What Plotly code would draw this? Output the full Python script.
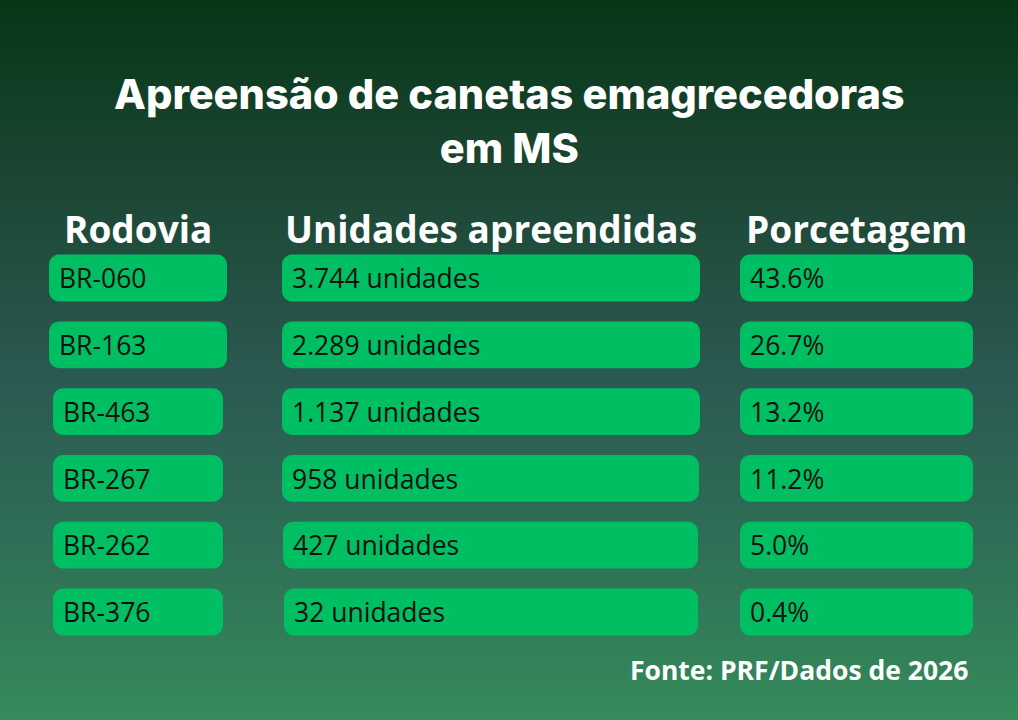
import numpy as np
import plotly.graph_objects as go

# table content
rodovias = ["BR-060", "BR-163", "BR-463", "BR-267", "BR-262", "BR-376"]
unidades = [3744, 2289, 1137, 958, 427, 32]
porcentagem = [43.6, 26.7, 13.2, 11.2, 5.0, 0.4]

headers = ["Rodovia", "Unidades apreendidas", "Porcetagem"]
title_lines = ["Apreensão de canetas emagrecedoras", "em MS"]
fonte = "Fonte: PRF/Dados de 2026"

W, H = 1018, 720
BOX = "#00bf63"
BODY_FONT = "Open Sans"


def fmt_unidades(n):
    return f"{n:,}".replace(",", ".") + " unidades"


# pill geometry per column (pixel units on the x axis)
col1_left = [49, 49, 53, 53, 53, 53]
col1_right = [227, 227, 223, 223, 223, 223]
col2_left = [282, 282, 282, 282, 283, 284]
col2_right = [700, 700, 700, 699, 698, 698]
col3_left = [740] * 6
col3_right = [973] * 6
pad = 10

columns = [
    (col1_left, col1_right, rodovias),
    (col2_left, col2_right, [fmt_unidades(u) for u in unidades]),
    (col3_left, col3_right, [f"{p:.1f}%" for p in porcentagem]),
]

fig = go.Figure()

# background gradient on the base axes
grad = np.linspace(0, 1, 200)
fig.add_trace(go.Heatmap(
    x=[0, W], y=np.linspace(0, H, 200), z=[[v, v] for v in grad],
    colorscale=[
        [0.0, "#053716"],
        [0.22, "#1a4430"],
        [0.53, "#2b5a52"],
        [0.75, "#2f6e56"],
        [1.0, "#358b5b"],
    ],
    showscale=False, hoverinfo="skip", xaxis="x", yaxis="y",
))

for left, right, labels in columns:
    fig.add_trace(go.Bar(
        y=rodovias, x=[r - l for l, r in zip(left, right)], base=left,
        orientation="h", width=0.70, marker=dict(color=BOX, line=dict(width=0)),
        hoverinfo="skip", xaxis="x2", yaxis="y2", showlegend=False,
    ))
    fig.add_trace(go.Scatter(
        y=rodovias, x=[l + pad for l in left], text=labels, mode="text",
        textposition="middle right",
        textfont=dict(family=BODY_FONT, size=26.5, color="#111111"),
        hoverinfo="skip", xaxis="x2", yaxis="y3", showlegend=False,
    ))

# row 0 centred at 278px, pitch 66.8px; text axis nudged a few px lower
pitch = 66.8
y_top = -278 / pitch
y_bot = (H - 278) / pitch
nudge = 3.5 / pitch

annotations = [
    dict(text="<br>".join(title_lines), x=0.5, y=1 - 121 / H,
         font=dict(family="Inter", size=41.5, color="white", weight=800)),
    dict(text=fonte, x=970 / W, y=1 - 670 / H, xanchor="right",
         font=dict(family=BODY_FONT, size=26.5, color="white", weight=700)),
]
for text, cx in zip(headers, [138, 491, 856]):
    annotations.append(dict(
        text=text, x=cx / W, y=1 - 228 / H,
        font=dict(family=BODY_FONT, size=37, color="white", weight=700),
    ))
for a in annotations:
    a.update(xref="paper", yref="paper", showarrow=False, align="center",
             yanchor="middle")
    a.setdefault("xanchor", "center")

axis_off = dict(visible=False, showgrid=False, zeroline=False, fixedrange=True)
fig.update_layout(
    width=W, height=H,
    margin=dict(l=0, r=0, t=0, b=0),
    paper_bgcolor="#1f4f3c", plot_bgcolor="rgba(0,0,0,0)",
    barmode="overlay",
    barcornerradius=10,
    xaxis=dict(range=[0, W], **axis_off),
    yaxis=dict(range=[H, 0], **axis_off),
    xaxis2=dict(range=[0, W], overlaying="x", **axis_off),
    yaxis2=dict(range=[y_bot, y_top], type="category", overlaying="y", **axis_off),
    yaxis3=dict(range=[y_bot - nudge, y_top - nudge], type="category",
                overlaying="y", **axis_off),
    annotations=annotations,
    showlegend=False,
)

fig.write_html(
    "out.html",
    config={"displayModeBar": False},
    post_script="document.body.style.margin='0';document.body.style.overflow='hidden';",
)
